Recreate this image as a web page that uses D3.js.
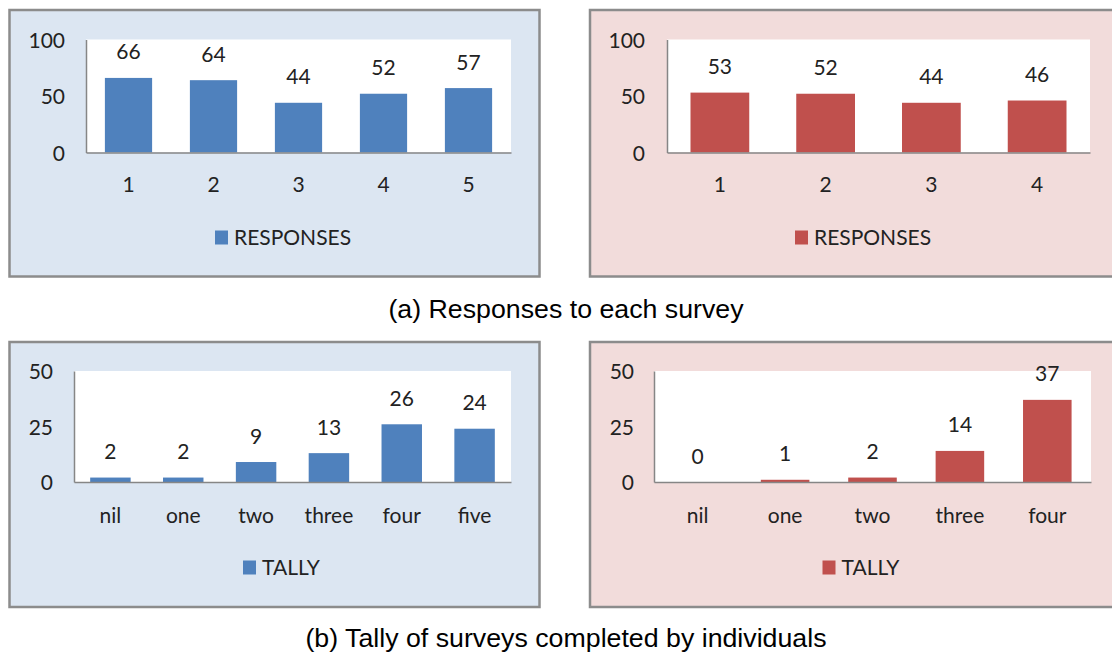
<!DOCTYPE html>
<html>
<head>
<meta charset="utf-8">
<script src="https://cdn.jsdelivr.net/npm/d3@7"></script>
<style>
  html, body { margin: 0; padding: 0; background: #ffffff; }
  svg { display: block; }
  .lbl { font-family: Lato, "Open Sans", sans-serif; font-size: 21px; fill: #222222; }
  .cap { font-family: "Liberation Sans", Arial, sans-serif; font-size: 25px; fill: #000000; }
</style>
</head>
<body>
<svg id="fig" width="1112" height="653"></svg>
<script>
// Survey responses per round
const surveyRoundsA = ["1", "2", "3", "4", "5"];
const responsesA = [66, 64, 44, 52, 57];
const surveyRoundsB = ["1", "2", "3", "4"];
const responsesB = [53, 52, 44, 46];

// Number of surveys each individual completed
const tallyCatsA = ["nil", "one", "two", "three", "four", "five"];
const tallyA = [2, 2, 9, 13, 26, 24];
const tallyCatsB = ["nil", "one", "two", "three", "four"];
const tallyB = [0, 1, 2, 14, 37];

const responseTicks = [0, 50, 100];
const tallyTicks = [0, 25, 50];

const captionA = "(a) Responses to each survey";
const captionB = "(b) Tally of surveys completed by individuals";

const BLUE = "#4f81bd", RED = "#c0504d";
const BLUE_BG = "#dce6f2", RED_BG = "#f2dcdb";

const svg = d3.select("#fig");

function panel(opts) {
  const g = svg.append("g");
  // chart frame
  g.append("rect")
    .attr("x", opts.box[0]).attr("y", opts.box[1])
    .attr("width", opts.box[2]).attr("height", opts.box[3])
    .attr("fill", opts.bg).attr("stroke", "#8c8c8c").attr("stroke-width", 2.5);

  const [px0, px1, py0, py1] = opts.plot;
  // white plot area
  g.append("rect")
    .attr("x", px0).attr("y", py0)
    .attr("width", px1 - px0).attr("height", py1 - py0)
    .attr("fill", "#ffffff");

  const x = d3.scaleBand()
    .domain(opts.cats)
    .range([px0, px1])
    .paddingInner(0.8 / 1.8)
    .paddingOuter(0.4 / 1.8);
  const y = d3.scaleLinear()
    .domain([opts.ticks[0], opts.ticks[opts.ticks.length - 1]])
    .range([py1, py0]);

  // bars
  g.selectAll("rect.bar")
    .data(opts.values)
    .join("rect")
    .attr("class", "bar")
    .attr("x", (d, i) => x(opts.cats[i]))
    .attr("width", x.bandwidth())
    .attr("y", d => y(d))
    .attr("height", d => y(0) - y(d))
    .attr("fill", opts.color);

  // value labels
  g.selectAll("text.val")
    .data(opts.values)
    .join("text")
    .attr("class", "lbl val")
    .attr("text-anchor", "middle")
    .attr("x", (d, i) => x(opts.cats[i]) + x.bandwidth() / 2)
    .attr("y", d => y(d) - 18.5)
    .text(d => d);

  // axes: vertical line on the left and the baseline
  const yAxis = d3.axisLeft(y).tickValues(opts.ticks).tickSize(0).tickPadding(px0 - opts.yLabelRight);
  const ya = g.append("g").attr("transform", `translate(${px0},0)`).call(yAxis);
  ya.select(".domain").attr("stroke", "#868686").attr("stroke-width", 1.5);
  ya.selectAll("text").attr("class", "lbl").attr("font-size", null).attr("font-family", null)
    .attr("fill", null).attr("dy", "0.36em");

  const xAxis = d3.axisBottom(x).tickSize(0).tickPadding(opts.catY - py1);
  const xa = g.append("g").attr("transform", `translate(0,${py1})`).call(xAxis);
  xa.select(".domain").attr("stroke", "#868686").attr("stroke-width", 1.5);
  xa.selectAll("text").attr("class", "lbl").attr("font-size", null).attr("font-family", null)
    .attr("fill", null).attr("dy", "0.36em");

  // legend
  g.append("rect")
    .attr("x", opts.legend[0]).attr("y", opts.legend[1] - 7)
    .attr("width", 13).attr("height", 14)
    .attr("fill", opts.color);
  g.append("text")
    .attr("class", "lbl")
    .attr("x", opts.legend[0] + 19).attr("y", opts.legend[1])
    .attr("dy", "0.36em")
    .text(opts.name);
}

panel({
  box: [9.5, 10, 530, 266.5], bg: BLUE_BG, color: BLUE,
  plot: [86, 511, 39.5, 152.5], yLabelRight: 65, catY: 184,
  cats: surveyRoundsA, values: responsesA, ticks: responseTicks,
  legend: [215, 237.5], name: "RESPONSES"
});
panel({
  box: [590, 10, 560, 266.5], bg: RED_BG, color: RED,
  plot: [667, 1090, 39.5, 152.5], yLabelRight: 645, catY: 184,
  cats: surveyRoundsB, values: responsesB, ticks: responseTicks,
  legend: [795, 237.5], name: "RESPONSES"
});
panel({
  box: [9.5, 342, 530, 265], bg: BLUE_BG, color: BLUE,
  plot: [74, 511, 371, 482], yLabelRight: 53, catY: 515,
  cats: tallyCatsA, values: tallyA, ticks: tallyTicks,
  legend: [243, 567.5], name: "TALLY"
});
panel({
  box: [590, 342, 560, 265], bg: RED_BG, color: RED,
  plot: [654, 1091, 371, 482], yLabelRight: 634, catY: 515,
  cats: tallyCatsB, values: tallyB, ticks: tallyTicks,
  legend: [822.5, 567.5], name: "TALLY"
});

// figure captions
svg.append("text").attr("class", "cap")
  .attr("text-anchor", "middle")
  .attr("transform", "translate(566,318) scale(1.07,1)")
  .text(captionA);
svg.append("text").attr("class", "cap")
  .attr("text-anchor", "middle")
  .attr("transform", "translate(566,647) scale(1.07,1)")
  .text(captionB);
</script>
</body>
</html>
